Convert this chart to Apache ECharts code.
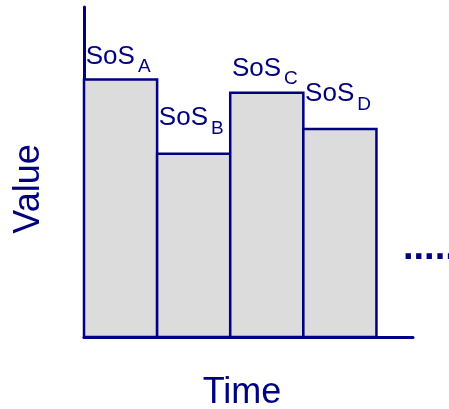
<!DOCTYPE html>
<html>
<head>
<meta charset="utf-8">
<script src="https://cdn.jsdelivr.net/npm/echarts@6/dist/echarts.min.js"></script>
<style>
  html, body { margin: 0; padding: 0; background: #fff; }
  #chart { width: 449px; height: 409px; }
</style>
</head>
<body>
<div id="chart"></div>
<script>
const periods = ['A', 'B', 'C', 'D']
const values = [7.8, 5.55, 7.4, 6.3]

const navy = '#000080'
const font = '"Liberation Sans", Arial, sans-serif'
// how far each label's box bottom sits above its bar top
const labelLift = [1.6, 14.6, 2.8, 14]

const chart = echarts.init(document.getElementById('chart'))

const option = {
    animation: false,
    grid: { left: 84, right: 36, top: 7, bottom: 72, outerBoundsMode: 'none', containLabel: false },
    xAxis: {
        type: 'value',
        min: 0,
        max: 4.5,
        name: 'Time',
        nameLocation: 'middle',
        nameGap: 38,
        nameTextStyle: { color: navy, fontSize: 36, fontFamily: font, padding: [0, 13, 0, 0] },
        axisLine: { show: true, lineStyle: { color: navy, width: 3 } },
        axisTick: { show: false },
        axisLabel: { show: false },
        splitLine: { show: false },
    },
    yAxis: {
        type: 'value',
        min: 0,
        max: 10,
        name: 'Value',
        nameLocation: 'middle',
        nameRotate: 90,
        nameGap: 37,
        nameTextStyle: { color: navy, fontSize: 36, fontFamily: font, padding: [0, 34, 0, 0] },
        axisLine: { show: true, lineStyle: { color: navy, width: 3 } },
        axisTick: { show: false },
        axisLabel: { show: false },
        splitLine: { show: false },
    },
    graphic: [
        {
            type: 'text',
            left: 403,
            top: 230,
            style: { text: '.....', font: 'bold 38px ' + font, fill: navy },
        },
    ],
    series: [
        {
            type: 'custom',
            data: values.map((v, i) => [i, v]),
            renderItem: (params, api) => {
                const i = api.value(0)
                const v = api.value(1)
                const p0 = api.coord([i, v])
                const p1 = api.coord([i + 1, 0])
                return {
                    type: 'rect',
                    shape: { x: p0[0], y: p0[1], width: p1[0] - p0[0], height: p1[1] - p0[1] },
                    style: { fill: '#dcdcdc', stroke: navy, lineWidth: 2.5 },
                    textContent: {
                        style: {
                            text: '{m|SoS}{s|' + periods[i] + '}',
                            align: 'left',
                            verticalAlign: 'bottom',
                            fill: navy,
                            rich: {
                                m: { fontSize: 26, lineHeight: 26, fontFamily: font, color: navy, padding: [0, 0, 7, 0], verticalAlign: 'bottom' },
                                s: { fontSize: 19, lineHeight: 19, fontFamily: font, color: navy, padding: [0, 0, 0, 3], verticalAlign: 'bottom' },
                            },
                        },
                    },
                    textConfig: { position: [3, -labelLift[i]] },
                }
            },
        },
    ],
}

chart.setOption(option)
</script>
</body>
</html>
